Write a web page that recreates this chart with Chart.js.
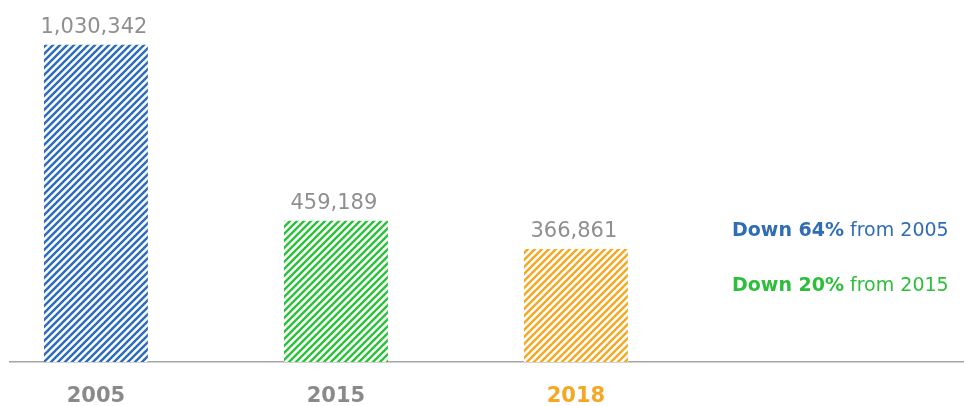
<!DOCTYPE html>
<html>
<head>
<meta charset="utf-8">
<script src="https://cdn.jsdelivr.net/npm/chart.js@4/dist/chart.umd.min.js"></script>
<style>
  html, body { margin: 0; padding: 0; background: #fff; }
  #wrap { width: 964px; height: 406px; }
</style>
</head>
<body>
<div id="wrap"><canvas id="chart" width="964" height="406"></canvas></div>
<script>
// data
const years = ['2005', '2015', '2018'];
const positions = [0, 1, 2];
const totals = [1030342, 459189, 366861];
const notesBold = ['Down 64%', 'Down 20%'];
const notesRest = [' from 2005', ' from 2015'];

// styles
const barColors = ['#2b6cbf', '#2cc13b', '#f7a823'];
const tickColors = ['#8a8a8a', '#8a8a8a', '#f5a623'];
const noteColors = ['#2f6db5', '#2dbf3a'];
const FONT = '"DejaVu Sans", sans-serif';

function stripes(color){
  const s = 7;
  const c = document.createElement('canvas');
  c.width = s; c.height = s;
  const g = c.getContext('2d');
  g.fillStyle = '#fff';
  g.fillRect(0, 0, s, s);
  g.strokeStyle = color;
  g.lineWidth = 2.4;
  g.beginPath();
  g.moveTo(0, s); g.lineTo(s, 0);
  g.moveTo(-s/2, s/2); g.lineTo(s/2, -s/2);
  g.moveTo(s/2, s*1.5); g.lineTo(s*1.5, s/2);
  g.stroke();
  return g.createPattern(c, 'repeat');
}

// value labels above bars + the notes on the right
const labelsPlugin = {
  id: 'labels',
  afterDatasetsDraw(chart){
    const ctx = chart.ctx;
    const meta = chart.getDatasetMeta(0);
    ctx.save();
    ctx.font = '21px ' + FONT;
    ctx.fillStyle = '#8f8f8f';
    ctx.textAlign = 'center';
    ctx.textBaseline = 'alphabetic';
    meta.data.forEach((bar, i) => {
      ctx.fillText(totals[i].toLocaleString('en-US'), bar.x - 2, bar.y - 12);
    });
    ctx.textAlign = 'left';
    const noteX = 732, noteY = [236, 291];
    notesBold.forEach((b, i) => {
      ctx.fillStyle = noteColors[i];
      ctx.font = 'bold 19px ' + FONT;
      ctx.fillText(b, noteX, noteY[i]);
      const w = ctx.measureText(b).width;
      ctx.font = '19px ' + FONT;
      ctx.fillText(notesRest[i], noteX + w, noteY[i]);
    });
    ctx.restore();
  }
};

new Chart(document.getElementById('chart'), {
  type: 'bar',
  data: {
    datasets: [{
      data: positions.map((x, i) => ({ x, y: totals[i] })),
      backgroundColor: barColors.map(stripes),
      borderWidth: 0,
      barPercentage: 0.433,
      categoryPercentage: 1
    }]
  },
  options: {
    responsive: false,
    animation: false,
    layout: { padding: { left: 10, right: 0, top: 8, bottom: 0 } },
    plugins: { legend: { display: false }, tooltip: { enabled: false } },
    scales: {
      x: {
        type: 'linear',
        min: -0.358,
        max: 3.617,
        offset: false,
        bounds: 'data',
        grid: { display: false, drawTicks: false },
        border: { display: true, color: '#a6a6a6', width: 1.5 },
        afterBuildTicks: (scale) => { scale.ticks = positions.map(v => ({ value: v })); },
        afterFit: (scale) => { scale.height = 44; },
        ticks: {
          autoSkip: false,
          maxRotation: 0,
          padding: 22,
          font: { family: FONT, size: 21, weight: 'bold' },
          color: (c) => tickColors[c.index] || '#8a8a8a',
          callback: (v) => years[v]
        }
      },
      y: {
        display: false,
        min: 0,
        max: 1150000
      }
    }
  },
  plugins: [labelsPlugin]
});
</script>
</body>
</html>
